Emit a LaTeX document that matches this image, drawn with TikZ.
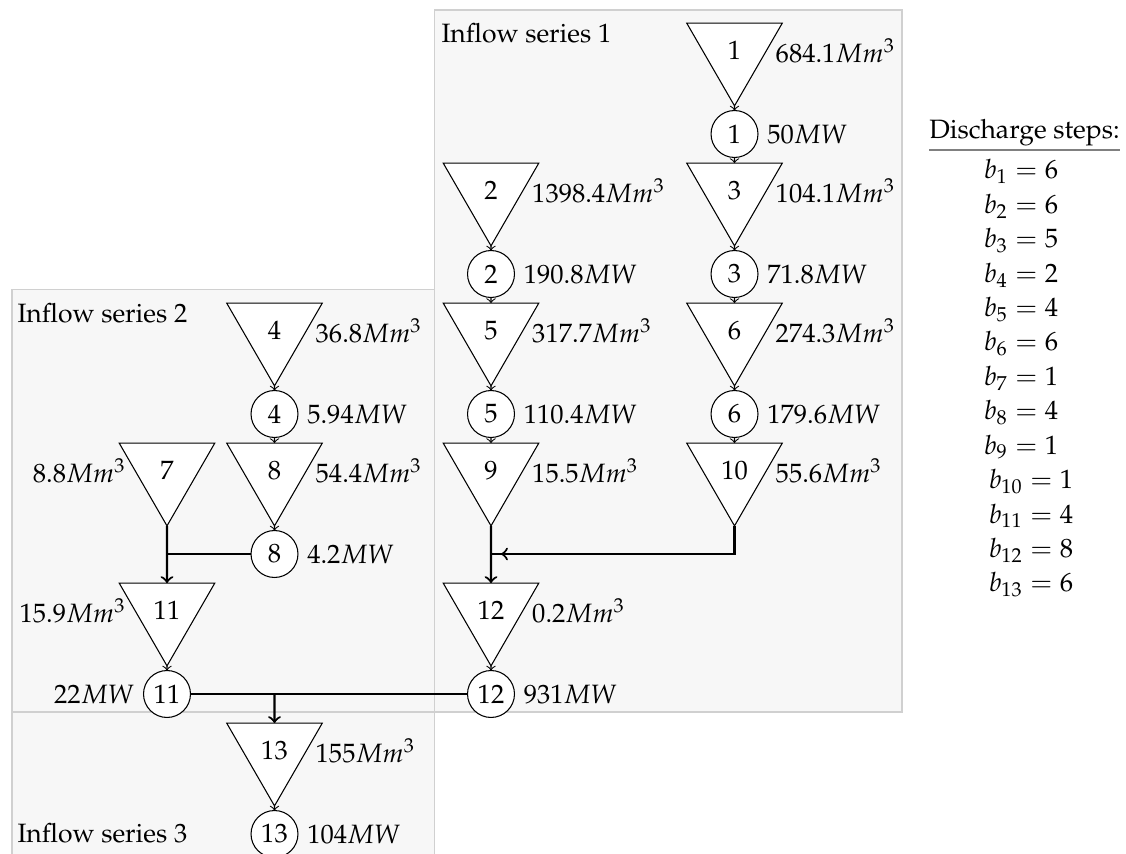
\documentclass[tikz,border=0pt]{standalone}
\usepackage[T1]{fontenc}
\usepackage{mathpazo}
\usetikzlibrary{shapes.geometric}
\definecolor{boxfill}{HTML}{F7F7F7}
\definecolor{boxline}{HTML}{D0D0D0}
\begin{document}
\begin{tikzpicture}[x=0.377pt,y=-0.377pt,
  res/.style={draw,fill=white,regular polygon,regular polygon sides=3,
    shape border rotate=180,minimum size=41.6pt,inner sep=0pt,outer sep=0pt},
  plant/.style={draw,fill=white,circle,minimum size=17.7pt,inner sep=0pt,outer sep=0pt},
  flow/.style={->},
  main/.style={thick},
  area/.style={fill=boxfill,draw=boxline},
  title/.style={anchor=base west,inner sep=0pt},
  entry/.style={anchor=base,inner sep=0pt}]
\useasboundingbox (0,0) rectangle (1126,854);
\clip (0,0) rectangle (1126,854);
% background areas
\path[area] (434.5,10) rectangle (902,712);
\path[area] (12,289.5) rectangle (434.5,712);
\path[area] (12,712) rectangle (434.5,880);
\node[title] (s1) at (441,43) {Inflow series 1};
\node[title] (s2) at (17,323) {Inflow series 2};
\node[title] (s3) at (17,842) {Inflow series 3};
% reservoirs and plants
\node[res,label=right:{684.1$Mm^3$}] (t1) at (734.5,50.7) {1};
\node[plant,label=right:{50$MW$}] (c1) at (734.5,134) {1};
\node[res,label=right:{1398.4$Mm^3$}] (t2) at (491,190.7) {2};
\node[plant,label=right:{190.8$MW$}] (c2) at (491,274) {2};
\node[res,label=right:{104.1$Mm^3$}] (t3) at (734.5,190.7) {3};
\node[plant,label=right:{71.8$MW$}] (c3) at (734.5,274) {3};
\node[res,label=right:{36.8$Mm^3$}] (t4) at (274.5,330.7) {4};
\node[plant,label=right:{5.94$MW$}] (c4) at (274.5,414) {4};
\node[res,label=right:{317.7$Mm^3$}] (t5) at (491,330.7) {5};
\node[plant,label=right:{110.4$MW$}] (c5) at (491,414) {5};
\node[res,label=right:{274.3$Mm^3$}] (t6) at (734.5,330.7) {6};
\node[plant,label=right:{179.6$MW$}] (c6) at (734.5,414) {6};
\node[res,label=left:{8.8$Mm^3$}] (t7) at (167,470.7) {7};
\node[res,label=right:{54.4$Mm^3$}] (t8) at (274.5,470.7) {8};
\node[plant,label=right:{4.2$MW$}] (c8) at (274.5,554) {8};
\node[res,label=right:{15.5$Mm^3$}] (t9) at (491,470.7) {9};
\node[res,label=right:{55.6$Mm^3$}] (t10) at (734.5,470.7) {10};
\node[res,label=left:{15.9$Mm^3$}] (t11) at (167,610.7) {11};
\node[plant,label=left:{22$MW$}] (c11) at (167,694) {11};
\node[res,label=right:{0.2$Mm^3$}] (t12) at (491,610.7) {12};
\node[plant,label=right:{931$MW$}] (c12) at (491,694) {12};
\node[res,label=right:{155$Mm^3$}] (t13) at (274.5,750.7) {13};
\node[plant,label=right:{104$MW$}] (c13) at (274.5,834) {13};
% thin connections
\draw[flow] (t1.south) -- (c1.north);
\draw[flow] (c1.south) -- (t3.north);
\draw[flow] (t3.south) -- (c3.north);
\draw[flow] (c3.south) -- (t6.north);
\draw[flow] (t6.south) -- (c6.north);
\draw[flow] (c6.south) -- (t10.north);
\draw[flow] (t2.south) -- (c2.north);
\draw[flow] (c2.south) -- (t5.north);
\draw[flow] (t5.south) -- (c5.north);
\draw[flow] (c5.south) -- (t9.north);
\draw[flow] (t4.south) -- (c4.north);
\draw[flow] (c4.south) -- (t8.north);
\draw[flow] (t8.south) -- (c8.north);
\draw[flow] (t11.south) -- (c11.north);
\draw[flow] (t12.south) -- (c12.north);
\draw[flow] (t13.south) -- (c13.north);
% thick joins
\coordinate (j1) at (167,554);
\draw[main,->] (t7.south) -- (t11.north);
\draw[main] (c8.west) -- (j1);
\coordinate (j2) at (491,554);
\coordinate (j2a) at (501,554);
\draw[main,->] (t9.south) -- (t12.north);
\draw[main] (t10.south) |- (j2);
\draw[main,->] (t10.south) |- (j2a);
\coordinate (j3) at (274.5,694);
\draw[main] (c11.east) -- (c12.west);
\draw[main,->] (j3) -- (t13.north);
% discharge steps
\node[entry] (dh) at (1024.5,139) {Discharge steps:};
\coordinate (u1) at (929,150);
\coordinate (u2) at (1120,150);
\draw[gray] (u1) -- (u2);
\foreach \i/\v in {1/6,2/6,3/5,4/2,5/4,6/6,7/1,8/4,9/1}
  \node[entry] (b\i) at (1021,{179+(\i-1)*34.4}) {$b_{\i}=\v$};
\foreach \i/\v in {10/1,11/4,12/8,13/6}
  \node[entry] (b\i) at (1031,{179+(\i-1)*34.4}) {$b_{\i}=\v$};
\end{tikzpicture}
\end{document}
